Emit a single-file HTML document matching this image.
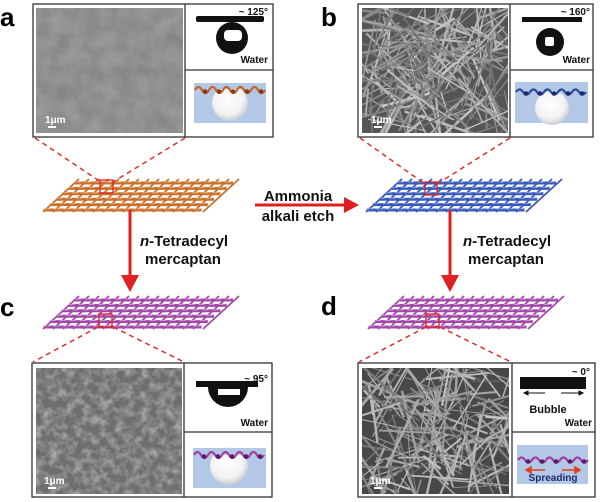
<!DOCTYPE html>
<html><head><meta charset="utf-8"><style>
html,body{margin:0;padding:0;background:#fff;width:600px;height:502px;overflow:hidden;position:relative}
svg{position:absolute;left:0;top:0;display:block}
text{font-family:"Liberation Sans",Arial,sans-serif;font-weight:bold}
</style></head><body>
<svg id="s" width="600" height="502" viewBox="0 0 600 502" xmlns="http://www.w3.org/2000/svg">
<defs>
<filter id="tA" x="0" y="0" width="100%" height="100%"><feTurbulence type="fractalNoise" baseFrequency="0.06" numOctaves="3" seed="3"/><feColorMatrix type="matrix" values="0 0 0 0 0.55  0 0 0 0 0.55  0 0 0 0 0.55  0.9 0 0 0 -0.15"/></filter>
<filter id="tC" x="0" y="0" width="100%" height="100%"><feTurbulence type="fractalNoise" baseFrequency="0.12" numOctaves="3" seed="7"/><feColorMatrix type="matrix" values="0 0 0 0 0.7  0 0 0 0 0.7  0 0 0 0 0.7  1.2 0 0 0 -0.45"/></filter>
<radialGradient id="bub" cx="0.45" cy="0.4" r="0.6"><stop offset="0" stop-color="#fff"/><stop offset="0.7" stop-color="#f2f2f2"/><stop offset="1" stop-color="#c8ccd2"/></radialGradient>
<clipPath id="cB"><rect x="362" y="8" width="146" height="125"/></clipPath>
<clipPath id="cD"><rect x="362" y="368" width="147" height="126"/></clipPath>
</defs>

<text x="0" y="26" font-size="26">a</text>
<text x="321" y="26" font-size="26">b</text>
<text x="0" y="316" font-size="26">c</text>
<text x="321" y="315" font-size="26">d</text>

<g fill="none" stroke="#333" stroke-width="1.3">
<rect x="33" y="4" width="240" height="133"/><line x1="185" y1="4" x2="185" y2="137"/><line x1="185" y1="70" x2="273" y2="70"/>
<rect x="358" y="4" width="235" height="133"/><line x1="510" y1="4" x2="510" y2="137"/><line x1="510" y1="70" x2="593" y2="70"/>
<rect x="32" y="363" width="240" height="134"/><line x1="184" y1="363" x2="184" y2="497"/><line x1="184" y1="432" x2="272" y2="432"/>
<rect x="358" y="363" width="237" height="134"/><line x1="512" y1="363" x2="512" y2="497"/><line x1="512" y1="432" x2="595" y2="432"/>
</g>

<rect x="36" y="8" width="147" height="125" fill="#858585"/>
<rect x="36" y="8" width="147" height="125" filter="url(#tA)" opacity="0.6"/>
<rect x="36" y="368" width="146" height="126" fill="#6e6e6e"/>
<rect x="36" y="368" width="146" height="126" filter="url(#tC)"/>
<rect x="362" y="8" width="146" height="125" fill="#555"/>
<g id="wB" clip-path="url(#cB)"></g>
<rect x="362" y="368" width="147" height="126" fill="#484848"/>
<g id="wD" clip-path="url(#cD)"></g>
<g fill="#fff" font-size="10">
<text x="45" y="123">1μm</text><rect x="48" y="126" width="8" height="2"/>
<text x="371" y="123">1μm</text><rect x="374" y="126" width="8" height="2"/>
<text x="44" y="484">1μm</text><rect x="48" y="487" width="8" height="2"/>
<text x="370" y="484">1μm</text><rect x="374" y="487" width="8" height="2"/>
</g>

<g font-size="10" fill="#111">
<text x="268" y="15" text-anchor="end">~ 125°</text><text x="268" y="63" text-anchor="end">Water</text>
<text x="590" y="15" text-anchor="end">~ 160°</text><text x="590" y="63" text-anchor="end">Water</text>
<text x="268" y="382" text-anchor="end">~ 95°</text><text x="268" y="426" text-anchor="end">Water</text>
<text x="590" y="375" text-anchor="end">~ 0°</text><text x="592" y="426" text-anchor="end">Water</text>
<text x="548" y="413" text-anchor="middle" font-size="11">Bubble</text>
</g>
<g fill="#111">
<rect x="196" y="16" width="68" height="6" rx="2"/><circle cx="232" cy="38" r="16"/><rect x="224" y="30" width="18" height="11" rx="4" fill="#fff"/>
<rect x="522" y="17" width="60" height="5"/><circle cx="550" cy="42" r="14"/><rect x="545" y="37" width="9" height="9" rx="2" fill="#fff"/>
<rect x="196" y="381" width="62" height="6"/><path d="M208 387 H248 A20 20 0 0 1 208 387Z"/><rect x="218" y="389" width="22" height="6" fill="#fff"/>
<rect x="520" y="377" width="66" height="12"/>
</g>
<g stroke="#111" stroke-width="1" fill="#111">
<line x1="526" y1="393" x2="545" y2="393"/><path d="M524 393 l4 -2 v4z"/>
<line x1="561" y1="393" x2="580" y2="393"/><path d="M583 393 l-4 -2 v4z"/>
</g>

<rect x="194" y="83" width="72" height="40" fill="#b3c7e6"/>
<circle cx="230" cy="103" r="18" fill="url(#bub)"/>
<rect x="194" y="83" width="72" height="6" fill="#b3c7e6"/>
<rect x="515" y="82" width="73" height="41" fill="#b3c7e6"/>
<circle cx="552" cy="108" r="17" fill="url(#bub)"/>
<rect x="193" y="448" width="73" height="40" fill="#b3c7e6"/>
<circle cx="229" cy="466" r="19" fill="url(#bub)"/>
<rect x="193" y="448" width="73" height="7" fill="#b3c7e6"/>
<rect x="517" y="445" width="71" height="39" fill="#b3c7e6"/>
<g id="chains"></g>
<g fill="#e0401e" stroke="#e0401e" stroke-width="1.5">
<line x1="530" y1="470" x2="545" y2="470"/><path d="M526 470 l5 -3 v6z"/>
<line x1="562" y1="470" x2="576" y2="470"/><path d="M580 470 l-5 -3 v6z"/>
</g>
<text x="553" y="481" font-size="10" fill="#1a2a6a" text-anchor="middle">Spreading</text>

<g id="meshes"></g>

<g stroke="#d6342a" stroke-width="1.5" stroke-dasharray="5,4" fill="none">
<line x1="35" y1="138" x2="101" y2="182"/><line x1="185" y1="138" x2="113" y2="182"/>
<line x1="360" y1="138" x2="425" y2="184"/><line x1="510" y1="138" x2="437" y2="184"/>
<line x1="98" y1="327" x2="33" y2="362"/><line x1="113" y1="327" x2="184" y2="362"/>
<line x1="426" y1="327" x2="359" y2="362"/><line x1="440" y1="327" x2="511" y2="362"/>
</g>
<g stroke="#e0201e" stroke-width="1.3" fill="none">
<rect x="100" y="180" width="13" height="13"/><rect x="425" y="182" width="12" height="13"/>
<rect x="99" y="314" width="13" height="13"/><rect x="426" y="314" width="13" height="13"/>
</g>

<g fill="#e0201e" stroke="#e0201e">
<line x1="255" y1="205" x2="346" y2="205" stroke-width="3"/><path d="M359 205 L344 197 L344 213Z" stroke="none"/>
<line x1="130" y1="210" x2="130" y2="276" stroke-width="3"/><path d="M130 292 L121 275 L139 275Z" stroke="none"/>
<line x1="450" y1="210" x2="450" y2="276" stroke-width="3"/><path d="M450 292 L441 275 L459 275Z" stroke="none"/>
</g>
<g font-size="15" fill="#111">
<text x="298" y="201" text-anchor="middle">Ammonia</text>
<text x="298" y="221" text-anchor="middle">alkali etch</text>
<text x="140" y="246"><tspan font-style="italic">n</tspan>-Tetradecyl</text>
<text x="145" y="264">mercaptan</text>
<text x="463" y="246"><tspan font-style="italic">n</tspan>-Tetradecyl</text>
<text x="468" y="264">mercaptan</text>
</g>
</svg>
<script>
var NS="http://www.w3.org/2000/svg";
function el(p,t,a){var e=document.createElementNS(NS,t);for(var k in a)e.setAttribute(k,a[k]);p.appendChild(e);return e;}
var seed=11;function rnd(){seed=(seed*16807)%2147483647;return seed/2147483647;}
function wires(id,x,y,w,h,n){var g=document.getElementById(id);
 for(var i=0;i<n;i++){var cx=x+rnd()*w,cy=y+rnd()*h,a=rnd()*Math.PI,l=20+rnd()*60;
  var c=Math.floor(110+rnd()*90);
  el(g,"line",{x1:cx-Math.cos(a)*l/2,y1:cy-Math.sin(a)*l/2,x2:cx+Math.cos(a)*l/2,y2:cy+Math.sin(a)*l/2,stroke:"rgb("+c+","+c+","+c+")","stroke-width":(0.8+rnd()*1.8).toFixed(1)});}}
wires("wB",362,8,146,125,240);wires("wD",362,368,147,126,190);
function mesh(x0,y0,col,lt){var g=document.getElementById("meshes");
 var rows=6,dy=5.4,sh=6.3,len=158;
 for(var j=0;j<17;j++){var xb=x0+j*10;
  el(g,"line",{x1:xb-2,y1:y0+(rows-1)*dy+2,x2:xb+30+4,y2:y0-4,stroke:col,"stroke-width":1.8});}
 for(var i=0;i<rows;i++){var y=y0+i*dy,xs=x0+30-i*sh;
  el(g,"line",{x1:xs,y1:y,x2:xs+len,y2:y,stroke:col,"stroke-width":3});
  el(g,"line",{x1:xs,y1:y-1,x2:xs+len,y2:y-1,stroke:lt,"stroke-width":0.8,"stroke-dasharray":"6,4"});}
}
mesh(45,183,"#c8702e","#f2b070");
mesh(368,183,"#3a5ab8","#8aa6e8");
mesh(45,300,"#a04aa8","#e0a0e8");
mesh(370,300,"#a04aa8","#e0a0e8");
function chain(x,y,w,col,ball,wv){var g=document.getElementById("chains");var d="M"+x+" "+y;var n=Math.round(w/14);
 for(var i=0;i<n;i++){var a=x+i*14;d+=" Q"+(a+3.5)+" "+(y-wv)+" "+(a+7)+" "+y+" T"+(a+14)+" "+y;}
 el(g,"path",{d:d,fill:"none",stroke:col,"stroke-width":2.2});
 for(var i=0;i<n;i++)el(g,"circle",{cx:x+i*14+10,cy:y+1.5,r:2.3,fill:ball});}
chain(195,90,70,"#c8602a","#8a3a10",6);
chain(516,92,70,"#2a4a9a","#1a2a6a",5);
chain(194,455,72,"#a040a0","#5a1a6a",6);
chain(518,460,70,"#a040a0","#5a1a6a",5);
</script>
</body></html>
